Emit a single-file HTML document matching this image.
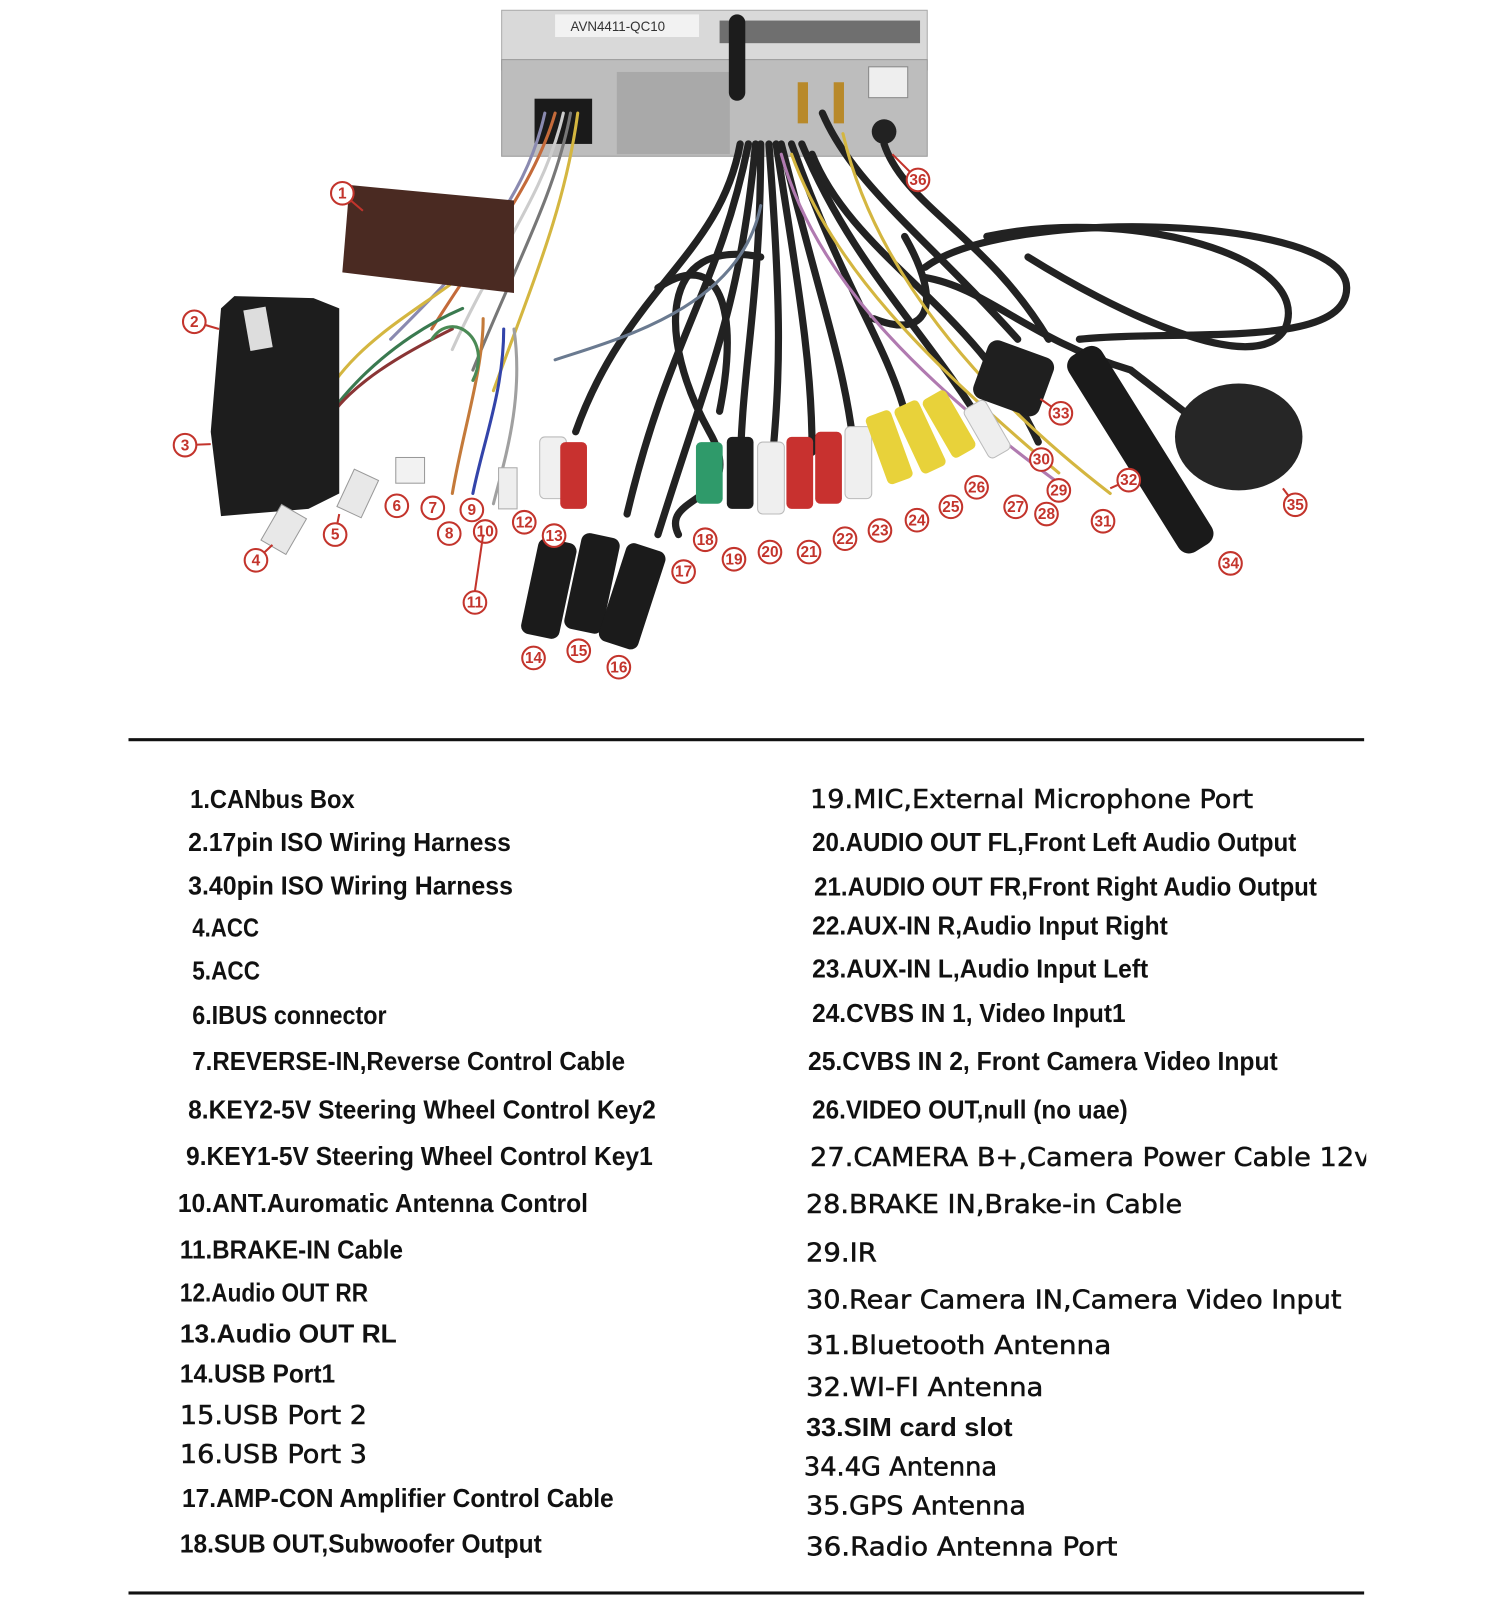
<!DOCTYPE html>
<html><head><meta charset="utf-8"><style>
html,body{margin:0;padding:0;background:#fff;}
svg{display:block;}
.t{font-family:"Liberation Sans",sans-serif;font-weight:bold;font-size:25px;fill:#111;}
.m{font-family:"DejaVu Sans","Liberation Sans",sans-serif;font-size:25px;font-weight:normal;fill:#111;stroke:#111;stroke-width:0.5;}
.n{font-family:"Liberation Sans",sans-serif;font-size:15px;font-weight:bold;fill:#c3342c;text-anchor:middle;}
.c{fill:#fff;stroke:#c3342c;stroke-width:2;}
.ld{stroke:#c3342c;stroke-width:2;}
</style></head><body>
<svg width="1506" height="1612" viewBox="0 0 1465 1568" preserveAspectRatio="none" xmlns="http://www.w3.org/2000/svg">
<rect width="1465" height="1568" fill="#fff"/>
<!-- head unit -->
<rect x="488" y="10" width="414" height="58" fill="#d9d9d9" stroke="#aaa"/>
<rect x="488" y="58" width="414" height="94" fill="#bdbdbd" stroke="#999"/>
<rect x="540" y="14" width="140" height="22" fill="#f2f2f2"/>
<text x="555" y="30" font-family="Liberation Sans" font-size="13" fill="#333">AVN4411-QC10</text>
<rect x="700" y="20" width="195" height="22" fill="#6f6f6f"/>
<rect x="600" y="70" width="110" height="80" fill="#a9a9a9"/>
<rect x="520" y="96" width="56" height="44" fill="#1a1a1a"/>
<rect x="845" y="65" width="38" height="30" fill="#eee" stroke="#888"/>
<circle cx="860" cy="128" r="12" fill="#222"/>
<rect x="776" y="80" width="10" height="40" fill="#b8892a"/><rect x="811" y="80" width="10" height="40" fill="#b8892a"/>
<rect x="709" y="14" width="16" height="84" rx="8" fill="#1c1c1c"/>
<!-- cables -->
<g fill="none" stroke-linecap="round">
<g stroke="#222" stroke-width="7">
<path d="M720 140 C700 250 610 280 560 420"/>
<path d="M728 140 C700 280 650 330 610 500"/>
<path d="M735 140 C720 300 690 360 640 520"/>
<path d="M740 140 C740 300 720 360 720 470"/>
<path d="M748 140 C760 300 760 360 750 460"/>
<path d="M755 140 C780 300 790 360 790 440"/>
<path d="M760 140 C800 300 820 350 830 430"/>
<path d="M770 140 C820 280 860 330 880 400"/>
<path d="M780 140 C830 260 900 320 960 420"/>
<path d="M790 150 C830 250 950 300 1010 430"/>
<path d="M740 250 C640 230 640 330 690 420 C730 490 640 480 660 520"/>
<path d="M640 280 C700 240 720 300 700 400"/>
<path d="M800 110 C830 180 900 230 990 330"/>
<path d="M860 140 C880 200 960 230 1020 330"/>
<path d="M900 260 C980 200 1310 210 1310 280 C1310 340 1150 320 1050 330"/>
<path d="M960 230 C1100 200 1280 250 1250 320 C1220 370 1080 300 1000 250"/>
<path d="M900 270 C960 280 1000 330 1100 360 L1190 430"/>
<path d="M880 230 C920 300 900 330 850 310"/>
</g>
<g stroke-width="3">
<path d="M540 110 C520 180 470 240 420 320" stroke="#c46a3a"/>
<path d="M548 110 C530 190 480 250 440 340" stroke="#ccc"/>
<path d="M555 110 C540 190 500 260 460 360" stroke="#777"/>
<path d="M562 110 C550 200 520 270 480 380" stroke="#d4b640"/>
<path d="M530 110 C510 200 450 260 380 330" stroke="#8a8ab0"/>
<path d="M470 250 C420 300 330 330 300 420" stroke="#d4b640"/>
<path d="M450 300 C380 330 320 390 300 440" stroke="#3a7a50"/>
<path d="M440 320 C360 360 300 400 300 470" stroke="#8a3535"/>
<path d="M470 310 C470 360 450 420 440 480" stroke="#c47a3a"/>
<path d="M490 320 C490 380 470 430 460 480" stroke="#3344aa"/>
<path d="M500 320 C510 390 490 450 480 490" stroke="#a0a0a0"/>
<path d="M420 330 C440 300 480 330 460 370" stroke="#4a8a55"/>
<path d="M740 200 C720 300 600 330 540 350" stroke="#6a7a90"/>
<path d="M760 150 C790 260 880 360 1030 470" stroke="#b07ab0"/>
<path d="M770 150 C810 260 900 350 1030 460" stroke="#d4b640"/>
<path d="M820 130 C850 260 950 380 1080 480" stroke="#d4b640"/>
</g>
</g>
<!-- canbus box -->
<polygon points="340,180 500,195 500,285 333,265" fill="#4a2a22"/>
<!-- harness -->
<polygon points="228,288 305,290 330,300 330,480 300,495 215,502 205,420 215,300" fill="#1d1d1d"/>
<rect x="240" y="300" width="22" height="40" fill="#ddd" transform="rotate(-10 250 320)"/>
<!-- small connectors -->
<rect x="262" y="495" width="28" height="40" fill="#e8e8e8" stroke="#999" transform="rotate(30 276 515)"/>
<rect x="335" y="460" width="26" height="40" fill="#e8e8e8" stroke="#999" transform="rotate(25 348 480)"/>
<rect x="385" y="445" width="28" height="25" fill="#f2f2f2" stroke="#999"/>
<rect x="485" y="455" width="18" height="40" fill="#eee" stroke="#aaa"/>
<!-- RCA -->
<g>
<rect x="525" y="425" width="26" height="60" rx="5" fill="#f0f0f0" stroke="#bbb"/>
<rect x="545" y="430" width="26" height="65" rx="5" fill="#c8312f"/>
<rect x="677" y="430" width="26" height="60" rx="5" fill="#2f9a6a"/>
<rect x="707" y="425" width="26" height="70" rx="5" fill="#1d1d1d"/>
<rect x="737" y="430" width="26" height="70" rx="5" fill="#efefef" stroke="#bbb"/>
<rect x="765" y="425" width="26" height="70" rx="5" fill="#c8312f"/>
<rect x="793" y="420" width="26" height="70" rx="5" fill="#c8312f"/>
<rect x="822" y="415" width="26" height="70" rx="5" fill="#efefef" stroke="#bbb"/>
<rect x="852" y="400" width="26" height="70" rx="5" fill="#e8d23a" transform="rotate(-20 865 435)"/>
<rect x="882" y="390" width="26" height="70" rx="5" fill="#e8d23a" transform="rotate(-25 895 425)"/>
<rect x="910" y="380" width="26" height="65" rx="5" fill="#e8d23a" transform="rotate(-30 923 412)"/>
<rect x="948" y="390" width="24" height="55" rx="5" fill="#eee" stroke="#bbb" transform="rotate(-30 960 417)"/>
</g>
<!-- USB -->
<rect x="515" y="525" width="38" height="95" rx="8" fill="#1b1b1b" transform="rotate(12 534 572)"/>
<rect x="557" y="520" width="38" height="95" rx="8" fill="#1b1b1b" transform="rotate(12 576 567)"/>
<rect x="595" y="530" width="40" height="100" rx="8" fill="#1b1b1b" transform="rotate(18 615 580)"/>
<!-- antennas -->
<rect x="952" y="338" width="68" height="60" rx="10" fill="#1f1f1f" transform="rotate(20 986 368)"/>
<rect x="1090" y="325" width="38" height="225" rx="12" fill="#1a1a1a" transform="rotate(-32 1109 437)"/>
<ellipse cx="1205" cy="425" rx="62" ry="52" fill="#262626"/>
<!-- labels -->
<g>
<line class="ld" x1="333" y1="188" x2="353" y2="205"/><circle class="c" cx="333" cy="188" r="11"/><text class="n" x="333" y="193">1</text>
<line class="ld" x1="189" y1="313" x2="213" y2="320"/><circle class="c" cx="189" cy="313" r="11"/><text class="n" x="189" y="318">2</text>
<line class="ld" x1="180" y1="433" x2="205" y2="432"/><circle class="c" cx="180" cy="433" r="11"/><text class="n" x="180" y="438">3</text>
<line class="ld" x1="249" y1="545" x2="265" y2="530"/><circle class="c" cx="249" cy="545" r="11"/><text class="n" x="249" y="550">4</text>
<line class="ld" x1="326" y1="520" x2="330" y2="500"/><circle class="c" cx="326" cy="520" r="11"/><text class="n" x="326" y="525">5</text>
<circle class="c" cx="386" cy="492" r="11"/><text class="n" x="386" y="497">6</text>
<circle class="c" cx="421" cy="494" r="11"/><text class="n" x="421" y="499">7</text>
<circle class="c" cx="437" cy="519" r="11"/><text class="n" x="437" y="524">8</text>
<circle class="c" cx="459" cy="496" r="11"/><text class="n" x="459" y="501">9</text>
<circle class="c" cx="472" cy="517" r="11"/><text class="n" x="472" y="522">10</text>
<line class="ld" x1="462" y1="575" x2="470" y2="520"/><circle class="c" cx="462" cy="586" r="11"/><text class="n" x="462" y="591">11</text>
<circle class="c" cx="510" cy="508" r="11"/><text class="n" x="510" y="513">12</text>
<circle class="c" cx="539" cy="521" r="11"/><text class="n" x="539" y="526">13</text>
<circle class="c" cx="519" cy="640" r="11"/><text class="n" x="519" y="645">14</text>
<circle class="c" cx="563" cy="633" r="11"/><text class="n" x="563" y="638">15</text>
<circle class="c" cx="602" cy="649" r="11"/><text class="n" x="602" y="654">16</text>
<circle class="c" cx="665" cy="556" r="11"/><text class="n" x="665" y="561">17</text>
<circle class="c" cx="686" cy="525" r="11"/><text class="n" x="686" y="530">18</text>
<circle class="c" cx="714" cy="544" r="11"/><text class="n" x="714" y="549">19</text>
<circle class="c" cx="749" cy="537" r="11"/><text class="n" x="749" y="542">20</text>
<circle class="c" cx="787" cy="537" r="11"/><text class="n" x="787" y="542">21</text>
<circle class="c" cx="822" cy="524" r="11"/><text class="n" x="822" y="529">22</text>
<circle class="c" cx="856" cy="516" r="11"/><text class="n" x="856" y="521">23</text>
<circle class="c" cx="892" cy="506" r="11"/><text class="n" x="892" y="511">24</text>
<circle class="c" cx="925" cy="493" r="11"/><text class="n" x="925" y="498">25</text>
<circle class="c" cx="950" cy="474" r="11"/><text class="n" x="950" y="479">26</text>
<circle class="c" cx="988" cy="493" r="11"/><text class="n" x="988" y="498">27</text>
<circle class="c" cx="1018" cy="500" r="11"/><text class="n" x="1018" y="505">28</text>
<circle class="c" cx="1030" cy="477" r="11"/><text class="n" x="1030" y="482">29</text>
<circle class="c" cx="1013" cy="447" r="11"/><text class="n" x="1013" y="452">30</text>
<circle class="c" cx="1073" cy="507" r="11"/><text class="n" x="1073" y="512">31</text>
<line class="ld" x1="1098" y1="467" x2="1080" y2="475"/><circle class="c" cx="1098" cy="467" r="11"/><text class="n" x="1098" y="472">32</text>
<line class="ld" x1="1032" y1="402" x2="1012" y2="388"/><circle class="c" cx="1032" cy="402" r="11"/><text class="n" x="1032" y="407">33</text>
<circle class="c" cx="1197" cy="548" r="11"/><text class="n" x="1197" y="553">34</text>
<line class="ld" x1="1260" y1="491" x2="1248" y2="475"/><circle class="c" cx="1260" cy="491" r="11"/><text class="n" x="1260" y="496">35</text>
<line class="ld" x1="893" y1="175" x2="868" y2="150"/><circle class="c" cx="893" cy="175" r="11"/><text class="n" x="893" y="180">36</text>
</g>
<!-- rules -->
<rect x="125" y="718" width="1202" height="3" fill="#111"/>
<rect x="125" y="1548" width="1202" height="3" fill="#111"/>
<!-- left column -->
<g class="t">
<text x="185" y="786" textLength="160" lengthAdjust="spacingAndGlyphs">1.CANbus Box</text>
<text x="183" y="828" textLength="314" lengthAdjust="spacingAndGlyphs">2.17pin ISO Wiring Harness</text>
<text x="183" y="870" textLength="316" lengthAdjust="spacingAndGlyphs">3.40pin ISO Wiring Harness</text>
<text x="187" y="911" textLength="65" lengthAdjust="spacingAndGlyphs">4.ACC</text>
<text x="187" y="953" textLength="66" lengthAdjust="spacingAndGlyphs">5.ACC</text>
<text x="187" y="996" textLength="189" lengthAdjust="spacingAndGlyphs">6.IBUS connector</text>
<text x="187" y="1041" textLength="421" lengthAdjust="spacingAndGlyphs">7.REVERSE-IN,Reverse Control Cable</text>
<text x="183" y="1088" textLength="455" lengthAdjust="spacingAndGlyphs">8.KEY2-5V Steering Wheel Control Key2</text>
<text x="181" y="1133" textLength="454" lengthAdjust="spacingAndGlyphs">9.KEY1-5V Steering Wheel Control Key1</text>
<text x="173" y="1179" textLength="399" lengthAdjust="spacingAndGlyphs">10.ANT.Auromatic Antenna Control</text>
<text x="175" y="1224" textLength="217" lengthAdjust="spacingAndGlyphs">11.BRAKE-IN Cable</text>
<text x="175" y="1266" textLength="183" lengthAdjust="spacingAndGlyphs">12.Audio OUT RR</text>
<text x="175" y="1306" textLength="211" lengthAdjust="spacingAndGlyphs">13.Audio OUT RL</text>
<text x="175" y="1345" textLength="151" lengthAdjust="spacingAndGlyphs">14.USB Port1</text>
<text class="m" x="175" y="1385" textLength="182" lengthAdjust="spacingAndGlyphs">15.USB Port 2</text>
<text class="m" x="175" y="1423" textLength="182" lengthAdjust="spacingAndGlyphs">16.USB Port 3</text>
<text x="177" y="1466" textLength="420" lengthAdjust="spacingAndGlyphs">17.AMP-CON Amplifier Control Cable</text>
<text x="175" y="1510" textLength="352" lengthAdjust="spacingAndGlyphs">18.SUB OUT,Subwoofer Output</text>
</g>
<!-- right column -->
<g class="t">
<text class="m" x="788" y="786" textLength="431" lengthAdjust="spacingAndGlyphs">19.MIC,External Microphone Port</text>
<text x="790" y="828" textLength="471" lengthAdjust="spacingAndGlyphs">20.AUDIO OUT FL,Front Left Audio Output</text>
<text x="792" y="871" textLength="489" lengthAdjust="spacingAndGlyphs">21.AUDIO OUT FR,Front Right Audio Output</text>
<text x="790" y="909" textLength="346" lengthAdjust="spacingAndGlyphs">22.AUX-IN R,Audio Input Right</text>
<text x="790" y="951" textLength="327" lengthAdjust="spacingAndGlyphs">23.AUX-IN L,Audio Input Left</text>
<text x="790" y="994" textLength="305" lengthAdjust="spacingAndGlyphs">24.CVBS IN 1, Video Input1</text>
<text x="786" y="1041" textLength="457" lengthAdjust="spacingAndGlyphs">25.CVBS IN 2, Front Camera Video Input</text>
<text x="790" y="1088" textLength="307" lengthAdjust="spacingAndGlyphs">26.VIDEO OUT,null (no uae)</text>
<text class="m" x="788" y="1134" textLength="545" lengthAdjust="spacingAndGlyphs">27.CAMERA B+,Camera Power Cable 12v</text>
<text class="m" x="784" y="1180" textLength="366" lengthAdjust="spacingAndGlyphs">28.BRAKE IN,Brake-in Cable</text>
<text class="m" x="784" y="1227" textLength="69" lengthAdjust="spacingAndGlyphs">29.IR</text>
<text class="m" x="784" y="1273" textLength="521" lengthAdjust="spacingAndGlyphs">30.Rear Camera IN,Camera Video Input</text>
<text class="m" x="784" y="1317" textLength="297" lengthAdjust="spacingAndGlyphs">31.Bluetooth Antenna</text>
<text class="m" x="784" y="1358" textLength="231" lengthAdjust="spacingAndGlyphs">32.WI-FI Antenna</text>
<text x="784" y="1397" textLength="201" lengthAdjust="spacingAndGlyphs">33.SIM card slot</text>
<text class="m" x="782" y="1435" textLength="188" lengthAdjust="spacingAndGlyphs">34.4G Antenna</text>
<text class="m" x="784" y="1473" textLength="214" lengthAdjust="spacingAndGlyphs">35.GPS Antenna</text>
<text class="m" x="784" y="1513" textLength="303" lengthAdjust="spacingAndGlyphs">36.Radio Antenna Port</text>
</g>
<rect x="1329" y="1100" width="136" height="50" fill="#fff"/>
</svg>
</body></html>
